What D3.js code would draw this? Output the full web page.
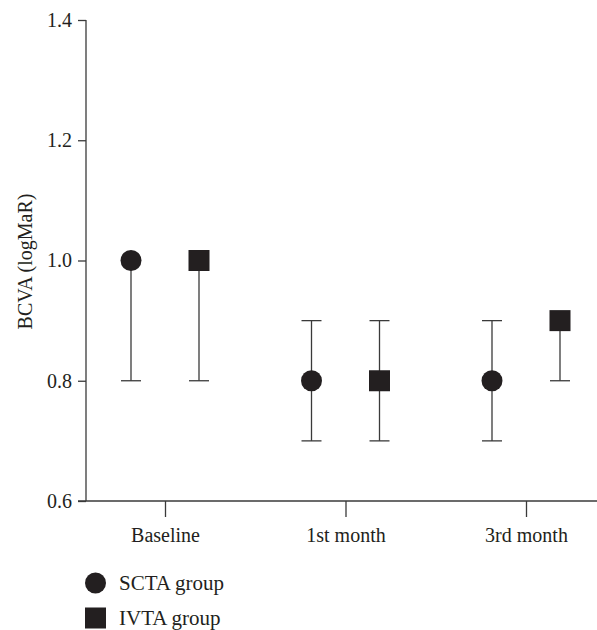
<!DOCTYPE html>
<html>
<head>
<meta charset="utf-8">
<script src="https://cdn.jsdelivr.net/npm/d3@7"></script>
<style>
  body { margin: 0; background: #fff; }
  text { font-family: "Liberation Serif", "DejaVu Serif", serif; fill: #231f20; }
</style>
</head>
<body>
<div id="chart"></div>
<script>
// time points and groups
const timepoints = ['Baseline', '1st month', '3rd month'];
const groups = ['SCTA group', 'IVTA group'];

// central values and error ranges per group (logMAR)
const scta_value = [1.0, 0.8, 0.8];
const scta_low = [0.8, 0.7, 0.7];
const scta_high = [1.0, 0.9, 0.9];
const ivta_value = [1.0, 0.8, 0.9];
const ivta_low = [0.8, 0.7, 0.8];
const ivta_high = [1.0, 0.9, 0.9];

const y_ticks = [0.6, 0.8, 1.0, 1.2, 1.4];

const width = 597, height = 630;
const margin = {top: 20, right: 0, bottom: 129, left: 86};
const ink = '#231f20';
const line_color = '#3a3a3a';
const font = '"Liberation Serif", serif';

const svg = d3.select('#chart').append('svg')
  .attr('width', width)
  .attr('height', height);

const x = d3.scalePoint()
  .domain(timepoints)
  .range([165, 526]);

// offset of each group around its time point
const offset = d3.scalePoint()
  .domain(groups)
  .range([-34, 34]);

const y = d3.scaleLinear()
  .domain([0.6, 1.4])
  .range([height - margin.bottom, margin.top]);

// y axis
const y_axis = svg.append('g')
  .attr('transform', `translate(${margin.left},0)`)
  .call(d3.axisLeft(y).tickValues(y_ticks).tickFormat(d3.format('.1f')).tickSize(8).tickPadding(6));
y_axis.select('.domain').attr('stroke', line_color).attr('stroke-width', 1.3).attr('d', `M0,${y(1.4)}V${y(0.6)}`);
y_axis.selectAll('.tick line').attr('stroke', line_color).attr('stroke-width', 1.3);
y_axis.selectAll('.tick text').style('font-size', '20px').style('font-family', font).attr('fill', ink);

// x axis
const x_axis = svg.append('g')
  .attr('transform', `translate(0,${y(0.6)})`)
  .call(d3.axisBottom(x).tickSize(16).tickPadding(11));
x_axis.select('.domain').attr('stroke', line_color).attr('stroke-width', 1.3).attr('d', `M${margin.left - 8},0H${width}`);
x_axis.selectAll('.tick line').attr('stroke', line_color).attr('stroke-width', 1.3);
x_axis.selectAll('.tick text').style('font-size', '20px').style('font-family', font).attr('fill', ink);

// y label
svg.append('text')
  .attr('transform', `translate(32,${(y(1.4) + y(0.6)) / 2 + 1}) rotate(-90)`)
  .attr('text-anchor', 'middle')
  .style('font-size', '20px')
  .text('BCVA (logMaR)');

const series = [
  {group: groups[0], value: scta_value, low: scta_low, high: scta_high, shape: 'circle'},
  {group: groups[1], value: ivta_value, low: ivta_low, high: ivta_high, shape: 'square'}
];

const cap = 10;
series.forEach(s => {
  const g = svg.append('g');
  timepoints.forEach((t, i) => {
    const cx = x(t) + offset(s.group);
    g.append('line')
      .attr('x1', cx).attr('x2', cx)
      .attr('y1', y(s.low[i])).attr('y2', y(s.high[i]))
      .attr('stroke', line_color).attr('stroke-width', 1.3);
    [s.low[i], s.high[i]].forEach(v => {
      if (v === s.value[i]) return;
      g.append('line')
        .attr('x1', cx - cap).attr('x2', cx + cap)
        .attr('y1', y(v)).attr('y2', y(v))
        .attr('stroke', line_color).attr('stroke-width', 1.3);
    });
    if (s.shape === 'circle') {
      g.append('circle').attr('cx', cx).attr('cy', y(s.value[i])).attr('r', 10.5).attr('fill', ink);
    } else {
      g.append('rect').attr('x', cx - 10.5).attr('y', y(s.value[i]) - 10.5)
        .attr('width', 21).attr('height', 21).attr('fill', ink);
    }
  });
});

// legend
const legend = svg.append('g');
series.forEach((s, i) => {
  const ly = 583 + i * 35;
  if (s.shape === 'circle') {
    legend.append('circle').attr('cx', 95.5).attr('cy', ly).attr('r', 10.5).attr('fill', ink);
  } else {
    legend.append('rect').attr('x', 85).attr('y', ly - 10.5).attr('width', 21).attr('height', 21).attr('fill', ink);
  }
  legend.append('text')
    .attr('x', 119).attr('y', ly + 7)
    .style('font-size', '21px')
    .text(s.group);
});
</script>
</body>
</html>
